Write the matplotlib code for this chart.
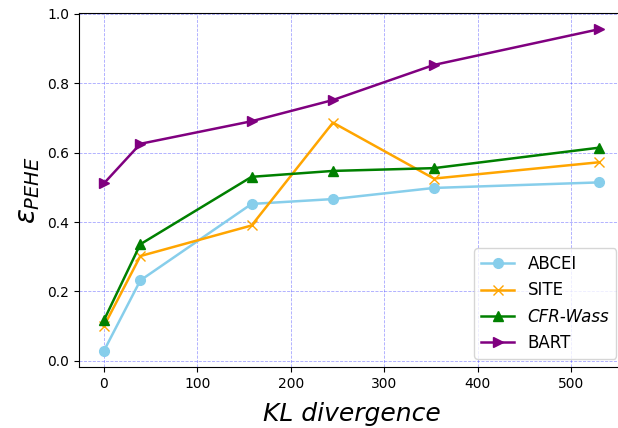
import matplotlib
matplotlib.use("Agg")
import matplotlib.pyplot as plt

# KL divergence between treated / control groups
kl = [0, 39, 158, 245, 353, 530]

abcei = [0.029, 0.232, 0.452, 0.466, 0.498, 0.514]
site = [0.100, 0.302, 0.390, 0.686, 0.525, 0.572]
cfr_wass = [0.117, 0.336, 0.530, 0.547, 0.555, 0.614]
bart = [0.511, 0.625, 0.690, 0.751, 0.852, 0.955]

fig = plt.figure(figsize=(6.18, 4.28), dpi=100)
ax = fig.add_axes([0.128, 0.1425, 0.882, 0.827])

ax.plot(kl, abcei, color="skyblue", marker="o", markersize=7, linewidth=1.8, label="ABCEI")
ax.plot(kl, site, color="orange", marker="x", markersize=7, linewidth=1.8, label="SITE")
ax.plot(kl, cfr_wass, color="green", marker="^", markersize=7, linewidth=1.8, label="CFR-Wass")
ax.plot(kl, bart, color="purple", marker=">", markersize=7, linewidth=1.8, label="BART")

ax.grid(color="blue", linestyle="--", linewidth=0.6, alpha=0.35)
ax.set_xlabel("KL divergence", fontsize=18, style="italic", labelpad=8)
ax.set_ylabel(r"$\varepsilon_{PEHE}$", fontsize=20)

leg = ax.legend(loc="lower right", fontsize=12)
leg.get_texts()[2].set_style("italic")

fig.savefig("out.png", dpi=100)
